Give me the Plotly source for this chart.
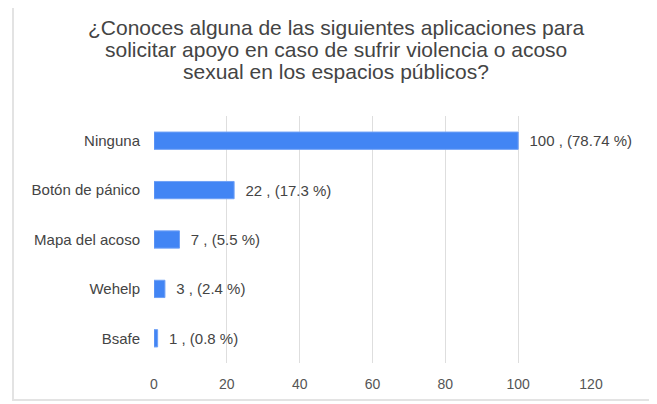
import plotly.graph_objects as go

apps = ["Ninguna", "Botón de pánico", "Mapa del acoso", "Wehelp", "Bsafe"]
counts = [100, 22, 7, 3, 1]
percents = ["78.74", "17.3", "5.5", "2.4", "0.8"]
x_ticks = [0, 20, 40, 60, 80, 100, 120]

title_lines = [
    "¿Conoces alguna de las siguientes aplicaciones para",
    "solicitar apoyo en caso de sufrir violencia o acoso",
    "sexual en los espacios públicos?",
]

labels = [f"\u00a0\u00a0{c} , ({p} %)" for c, p in zip(counts, percents)]

fig = go.Figure()
fig.add_trace(go.Bar(
    y=apps, x=counts, orientation="h",
    marker=dict(color="#4285F4", line=dict(color="#6fa0f6", width=1)),
    text=labels, textposition="outside", cliponaxis=False,
    textfont=dict(size=15, color="#444444"),
))

# title drawn line by line to keep the tight line spacing
title_y = [1.3563, 1.2673, 1.1782]
annotations = [dict(text=t, xref="paper", yref="paper", x=0.4165, y=y,
                    xanchor="center", yanchor="middle", showarrow=False,
                    font=dict(size=21, color="#444444"))
               for t, y in zip(title_lines, title_y)]

fig.update_layout(
    width=649, height=396,
    margin=dict(l=146, r=66, t=108, b=41),
    paper_bgcolor="white", plot_bgcolor="white",
    font=dict(family="Liberation Sans, Arial, sans-serif", color="#444444"),
    bargap=0.65,
    showlegend=False,
    annotations=annotations,
    shapes=[dict(type="rect", xref="paper", yref="paper",
                 x0=-0.3227, x1=1.1396, y0=-0.1498, y1=1.6,
                 line=dict(color="#e3e3e3", width=2), layer="below")],
)
fig.update_xaxes(range=[0, 120], tickvals=x_ticks, showgrid=True,
                 gridcolor="#dedede", zeroline=False, showline=False,
                 tickfont=dict(size=14, color="#555555"), ticks="outside",
                 ticklen=8, tickcolor="white")
fig.update_yaxes(autorange="reversed", showgrid=False, showline=False,
                 tickfont=dict(size=15, color="#444444"), ticks="outside",
                 ticklen=10, tickcolor="white")

fig.write_html("out.html")
